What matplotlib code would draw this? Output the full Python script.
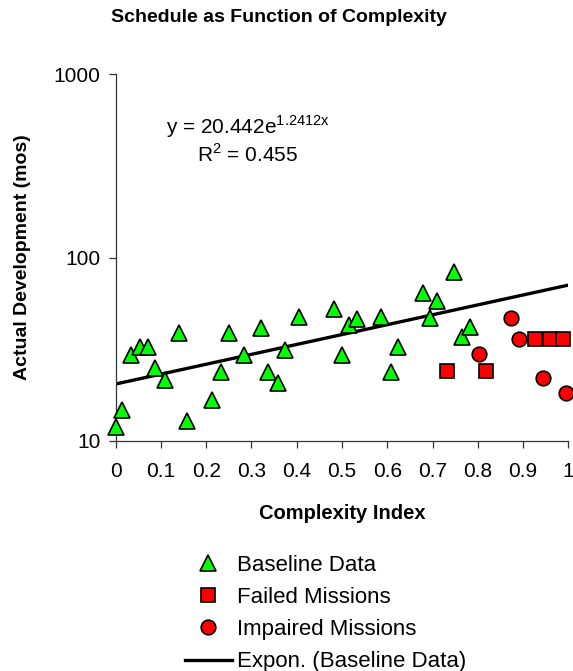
import matplotlib.pyplot as plt
import numpy as np
from matplotlib.ticker import FixedLocator, NullLocator, FuncFormatter

plt.rcParams['font.family'] = ['Liberation Sans', 'DejaVu Sans']

# baseline data (complexity index, months)
base_x = [0.0, 0.015, 0.033, 0.053, 0.072, 0.086, 0.108, 0.14, 0.158, 0.212,
          0.233, 0.25, 0.283, 0.32, 0.337, 0.358, 0.374, 0.405, 0.483, 0.499,
          0.516, 0.533, 0.586, 0.608, 0.624, 0.678, 0.695, 0.711, 0.748, 0.765,
          0.782]
base_y = [11.9, 14.8, 29.4, 32.4, 32.6, 25.0, 21.5, 38.9, 12.9, 16.7,
          23.7, 38.9, 29.4, 41.1, 23.7, 20.6, 31.3, 47.2, 52.2, 29.4,
          42.9, 46.0, 47.2, 23.9, 32.4, 64.3, 46.8, 58.2, 83.8, 37.0,
          41.7]

failed_x = [0.732, 0.819, 0.927, 0.959, 0.988]
failed_y = [24.1, 24.1, 35.8, 35.8, 35.8]

impaired_x = [0.802, 0.873, 0.891, 0.944, 0.996]
impaired_y = [29.8, 46.6, 35.9, 22.0, 18.2]

# exponential trendline as printed on the chart
coef_a = 20.442
coef_b = 1.2412

W, H = 573, 671
fig = plt.figure(figsize=(W / 100, H / 100), dpi=100)
ax = fig.add_axes([115.7 / W, 1 - 441 / H, 452.6 / W, 367 / H])

ms = 10.5
ax.plot(base_x, base_y, linestyle='none', marker='^', markersize=ms + 0.5,
        markerfacecolor='#00ff00', markeredgecolor='black', markeredgewidth=1.2,
        clip_on=False, zorder=3, label='Baseline Data')
ax.plot(failed_x, failed_y, linestyle='none', marker='s', markersize=ms,
        markerfacecolor='#ff0000', markeredgecolor='black', markeredgewidth=1.2,
        clip_on=False, zorder=3, label='Failed Missions')
ax.plot(impaired_x, impaired_y, linestyle='none', marker='o', markersize=ms,
        markerfacecolor='#ff0000', markeredgecolor='black', markeredgewidth=1.2,
        clip_on=False, zorder=3, label='Impaired Missions')

tx = np.linspace(0, 1, 60)
ax.plot(tx, coef_a * np.exp(coef_b * tx), color='black', linewidth=2.4,
        zorder=2, label='Expon. (Baseline Data)')

ax.set_yscale('log')
ax.set_xlim(0, 1)
ax.set_ylim(10, 1000)
ax.xaxis.set_major_locator(FixedLocator(np.arange(0, 1.01, 0.1)))
ax.xaxis.set_major_formatter(FuncFormatter(lambda v, p: '0' if v == 0 else ('1' if abs(v - 1) < 1e-9 else f'{v:.1f}')))
ax.yaxis.set_major_locator(FixedLocator([10, 100, 1000]))
ax.yaxis.set_major_formatter(FuncFormatter(lambda v, p: f'{v:g}'))
ax.yaxis.set_minor_locator(NullLocator())

for s in ['top', 'right']:
    ax.spines[s].set_visible(False)
for s in ['left', 'bottom']:
    ax.spines[s].set_color('#333333')
    ax.spines[s].set_linewidth(0.9)
ax.tick_params(axis='both', direction='out', length=5, width=0.9,
               color='#333333', labelsize=15)
ax.tick_params(axis='x', pad=10)
ax.tick_params(axis='y', pad=6)

ax.set_xlabel('Complexity Index', fontsize=14.5, fontweight='bold', labelpad=17)
ax.set_ylabel('Actual Development (mos)', fontsize=14, fontweight='bold', labelpad=16)

fig.text(279 / W, 1 - 18 / H, 'Schedule as Function of Complexity',
         ha='center', va='center', fontsize=14, fontweight='bold')

fig.text(248 / W, 1 - 127 / H, r'y = 20.442e$^{\mathregular{1.2412x}}$',
         ha='center', va='center', fontsize=15)
fig.text(248 / W, 1 - 155 / H, r'R$^{\mathregular{2}}$ = 0.455',
         ha='center', va='center', fontsize=15)

fig.legend(loc='upper left', bbox_to_anchor=(185 / W, 1 - 555 / H),
           frameon=False, fontsize=16, handlelength=2.1, handletextpad=0.25,
           labelspacing=0.5, borderpad=0, borderaxespad=0)

fig.savefig('out.png', dpi=100)
